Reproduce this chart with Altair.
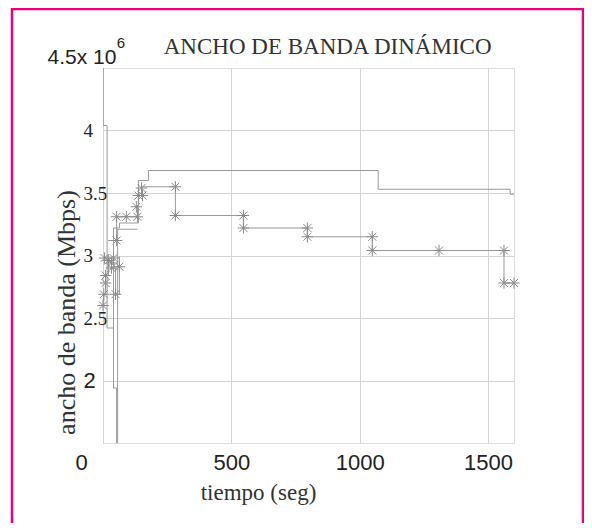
import altair as alt
import pandas as pd

title_text = "ANCHO DE BANDA DINÁMICO"
x_title = "tiempo (seg)"
y_title = "ancho de banda (Mbps)"
x_ticks = [0, 500, 1000, 1500]
y_ticks = [2, 2.5, 3, 3.5, 4]
top_label = "4.5x 10"
exponent_text = "6"

# upper step line (no markers)
upper_t = [1, 1, 16, 41, 64, 138, 177, 1072, 1586, 1601]
upper_v = [4.5, 4.04, 2.42, 3.22, 3.26, 3.60, 3.68, 3.53, 3.49, 3.49]

# dip line near the start
dip_t = [41, 41, 53, 57, 134]
dip_v = [2.42, 1.94, 0.8, 3.21, 3.21]

# middle step line (with stars)
mid_t = [20, 53, 134, 138, 150, 282, 547, 796, 1049, 1562, 1601]
mid_v = [3.12, 3.31, 3.39, 3.48, 3.55, 3.32, 3.22, 3.15, 3.04, 2.78, 2.78]

# lower step line (cluster at the start)
low_t = [0, 3, 10, 21, 33, 49, 64, 64]
low_v = [2.60, 2.69, 2.84, 2.96, 2.90, 2.69, 2.99, 2.91]

# star markers
star_t = [0, 3, 49, 10, 10, 33, 33, 21, 6, 41, 64,
          53, 53, 91, 134, 130, 138, 154, 150,
          282, 282, 547, 547, 796, 796, 1049, 1049, 1309, 1562, 1562, 1601]
star_v = [2.60, 2.69, 2.69, 2.78, 2.84, 2.90, 2.94, 2.96, 2.98, 2.98, 2.91,
          3.12, 3.31, 3.31, 3.31, 3.39, 3.48, 3.48, 3.54,
          3.55, 3.32, 3.32, 3.22, 3.22, 3.15, 3.15, 3.04, 3.04, 3.04, 2.78, 2.78]

rows = []
for name, ts, vs in [("upper", upper_t, upper_v), ("dip", dip_t, dip_v),
                     ("mid", mid_t, mid_v), ("low", low_t, low_v)]:
    for i, (t, v) in enumerate(zip(ts, vs)):
        rows.append({"serie": name, "i": i, "t": t, "v": v})
lines_df = pd.DataFrame(rows)
stars_df = pd.DataFrame({"t": star_t, "v": star_v})
title_df = pd.DataFrame({"t": [875], "v": [4.613], "txt": [title_text]})
top_df = pd.DataFrame({"t": [-216], "v": [4.532], "txt": [top_label]})
exp_df = pd.DataFrame({"t": [70], "v": [4.70], "txt": [exponent_text]})
border_df = pd.DataFrame({"k": [0]})

x_axis = alt.Axis(
    values=x_ticks, format="d", title=x_title,
    grid=True, gridColor="#d4d4d4", ticks=False, domain=False,
    labelFont="Liberation Sans", labelFontSize=22, labelColor="#222",
    labelPadding=9, labelFlush=1, labelFlushOffset=28, labelOverlap=False,
    titleFont="Liberation Serif", titleFontSize=23, titleFontWeight="normal",
    titleColor="#333", titleX=155, titleY=49, titleAlign="center", titleBaseline="middle",
)
y_axis = alt.Axis(
    values=y_ticks, format="~g", title=y_title,
    grid=True, gridColor="#d4d4d4", ticks=False, domain=False,
    labelAlign="left", labelPadding=20, labelBaseline="middle",
    labelFlush=False, labelOverlap=False, labelColor="#222",
    labelFont={"condition": {"test": "datum.value == 2", "value": "Liberation Sans"},
               "value": "Liberation Serif"},
    labelFontSize={"condition": {"test": "datum.value == 2", "value": 22}, "value": 19},
    titleFont="Liberation Serif", titleFontSize=26, titleFontWeight="normal",
    titleColor="#333", titleX=-37, titleY=244, titleAngle=270,
    titleAlign="center", titleBaseline="middle",
)

X = alt.X("t:Q", scale=alt.Scale(domain=[0, 1601], nice=False, zero=False), axis=x_axis)
Y = alt.Y("v:Q", scale=alt.Scale(domain=[1.5, 4.5], nice=False, zero=False), axis=y_axis)

lines = alt.Chart(lines_df).mark_line(
    interpolate="step-after", color="#9a9a9a", strokeWidth=1, clip=True
).encode(x=X, y=Y, detail="serie:N", order="i:Q")

star_shape = "M-1,0L1,0M0,-1L0,1M-0.7,-0.7L0.7,0.7M-0.7,0.7L0.7,-0.7"
stars = alt.Chart(stars_df).mark_point(
    shape=star_shape, filled=False, color="#8a8a8a", strokeWidth=1, size=130, opacity=1
).encode(x=X, y=Y)

title_mark = alt.Chart(title_df).mark_text(
    font="Liberation Serif", fontSize=23, color="#333", align="center", baseline="alphabetic"
).encode(x=X, y=Y, text="txt:N")

top_mark = alt.Chart(top_df).mark_text(
    font="Liberation Sans", fontSize=21, color="#222", align="left", baseline="alphabetic"
).encode(x=X, y=Y, text="txt:N")

exponent = alt.Chart(exp_df).mark_text(
    font="Liberation Sans", fontSize=15, color="#222", align="center", baseline="middle"
).encode(x=X, y=Y, text="txt:N")

border = alt.Chart(border_df).mark_rect(
    filled=False, stroke="#e6007e", strokeWidth=2.5, clip=False
).encode(x=alt.value(-91), x2=alt.value(480), y=alt.value(-59), y2=alt.value(600))

chart = alt.layer(border, lines, stars, title_mark, top_mark, exponent).properties(
    width=411, height=375,
    autosize=alt.AutoSizeParams(type="none"),
    padding={"left": 95, "top": 60, "right": 70, "bottom": 80},
).configure_view(stroke="#aaaaaa", strokeWidth=1).configure(background="white")

chart.save("out.html", embed_options={"renderer": "svg", "actions": False})
